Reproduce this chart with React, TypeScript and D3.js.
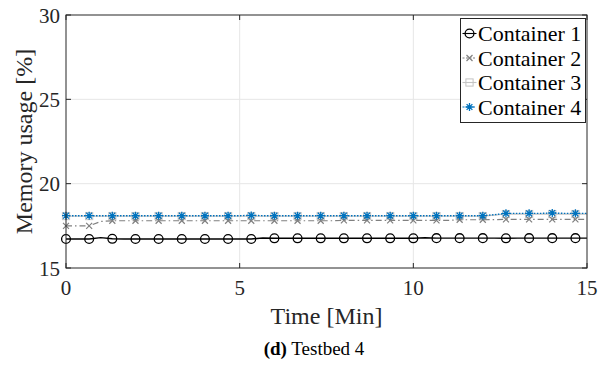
import React from "react";
import * as d3 from "d3";

// Sample times in minutes (every 20 s), markers drawn on every second sample
const times: number[] = d3.range(0, 46).map((i) => i / 3);

const container1: number[] = [
  16.72, 16.72, 16.72, 16.8, 16.73, 16.72, 16.72, 16.72, 16.72, 16.72,
  16.72, 16.72, 16.72, 16.72, 16.72, 16.72, 16.72, 16.78, 16.76, 16.76,
  16.76, 16.76, 16.76, 16.76, 16.76, 16.76, 16.76, 16.76, 16.76, 16.76,
  16.76, 16.79, 16.77, 16.77, 16.77, 16.77, 16.77, 16.77, 16.76, 16.77,
  16.77, 16.77, 16.77, 16.77, 16.77, 16.77,
];

const container2: number[] = [
  17.5, 17.5, 17.5, 17.76, 17.8, 17.8, 17.8, 17.8, 17.8, 17.8,
  17.8, 17.8, 17.8, 17.8, 17.8, 17.8, 17.8, 17.8, 17.8, 17.8,
  17.8, 17.8, 17.8, 17.8, 17.82, 17.82, 17.82, 17.82, 17.82, 17.82,
  17.82, 17.82, 17.82, 17.82, 17.86, 17.86, 17.86, 17.87, 17.88, 17.88,
  17.88, 17.88, 17.88, 17.88, 17.88, 17.88,
];

const container3: number[] = [
  18.08, 18.08, 18.08, 18.08, 18.08, 18.08, 18.08, 18.08, 18.08, 18.08,
  18.08, 18.08, 18.08, 18.08, 18.08, 18.08, 18.08, 18.08, 18.08, 18.08,
  18.08, 18.08, 18.08, 18.08, 18.08, 18.08, 18.08, 18.08, 18.08, 18.08,
  18.08, 18.08, 18.08, 18.08, 18.08, 18.08, 18.08, 18.14, 18.2, 18.2,
  18.2, 18.2, 18.2, 18.2, 18.2, 18.2,
];

const container4: number[] = [
  18.1, 18.1, 18.1, 18.1, 18.1, 18.1, 18.1, 18.1, 18.1, 18.1,
  18.1, 18.1, 18.1, 18.1, 18.1, 18.1, 18.12, 18.1, 18.1, 18.1,
  18.1, 18.1, 18.1, 18.1, 18.1, 18.1, 18.1, 18.1, 18.1, 18.1,
  18.1, 18.1, 18.1, 18.1, 18.1, 18.1, 18.1, 18.16, 18.24, 18.24,
  18.24, 18.24, 18.26, 18.24, 18.24, 18.24,
];

const seriesNames: string[] = ["Container 1", "Container 2", "Container 3", "Container 4"];
const xTicks: number[] = [0, 5, 10, 15];
const yTicks: number[] = [15, 20, 25, 30];
const xLabel = "Time [Min]";
const yLabel = "Memory usage [%]";

type Marker = "circle" | "x" | "square" | "star";

interface Series {
  name: string;
  values: number[];
  color: string;
  dash: string;
  width: number;
  marker: Marker;
}

const series: Series[] = [
  { name: seriesNames[2], values: container3, color: "#c4c4c4", dash: "", width: 1.2, marker: "square" },
  { name: seriesNames[0], values: container1, color: "#000000", dash: "", width: 1.4, marker: "circle" },
  { name: seriesNames[1], values: container2, color: "#808080", dash: "6,3,1.5,3", width: 1.2, marker: "x" },
  { name: seriesNames[3], values: container4, color: "#0072BD", dash: "1.5,1.5", width: 1.4, marker: "star" },
];

const W = 611;
const H = 365;
const left = 66;
const right = 587;
const top = 15;
const bottom = 268;
const serif = "'Liberation Serif', 'Times New Roman', serif";
const axisColor = "#262626";

function MarkerShape({ kind, x, y, color }: { kind: Marker; x: number; y: number; color: string }) {
  if (kind === "circle") {
    return <circle cx={x} cy={y} r={4.4} fill="none" stroke={color} strokeWidth={1.3} />;
  }
  if (kind === "square") {
    return <rect x={x - 3.6} y={y - 3.6} width={7.2} height={7.2} fill="none" stroke={color} strokeWidth={1} />;
  }
  if (kind === "x") {
    const s = 3;
    return (
      <path
        d={`M${x - s},${y - s}L${x + s},${y + s}M${x - s},${y + s}L${x + s},${y - s}`}
        stroke={color}
        strokeWidth={1.2}
      />
    );
  }
  const s = 4;
  const d = s * 0.72;
  return (
    <path
      d={`M${x - s},${y}L${x + s},${y}M${x},${y - s}L${x},${y + s}M${x - d},${y - d}L${x + d},${y + d}M${x - d},${y + d}L${x + d},${y - d}`}
      stroke={color}
      strokeWidth={1.3}
    />
  );
}

export default function App() {
  const x = d3.scaleLinear().domain([0, 15]).range([left, right]);
  const y = d3.scaleLinear().domain([15, 30]).range([bottom, top]);

  const lineGen = d3
    .line<number>()
    .x((_, i) => x(times[i]))
    .y((v) => y(v));

  const legendOrder: Series[] = [series[1], series[2], series[0], series[3]];
  const legendX = 460.5;
  const legendY = 18.5;
  const legendW = 125;
  const rowH = 24.5;

  return (
    <svg
      width={W}
      height={H}
      style={{ position: "absolute", left: 0, top: 0, background: "#fff" }}
    >
      <rect x={0} y={0} width={W} height={H} fill="#fff" />
      {/* grid */}
      {xTicks.slice(1, -1).map((t) => (
        <line key={`gx${t}`} x1={x(t)} x2={x(t)} y1={top} y2={bottom} stroke="#e6e6e6" strokeWidth={1} />
      ))}
      {yTicks.slice(1, -1).map((t) => (
        <line key={`gy${t}`} x1={left} x2={right} y1={y(t)} y2={y(t)} stroke="#e6e6e6" strokeWidth={1} />
      ))}

      {/* series */}
      {series.map((s) => (
        <g key={s.name}>
          <path
            d={lineGen(s.values) || ""}
            fill="none"
            stroke={s.color}
            strokeWidth={s.width}
            strokeDasharray={s.dash || undefined}
          />
          {s.values.map((v, i) =>
            i % 2 === 0 ? (
              <MarkerShape key={i} kind={s.marker} x={x(times[i])} y={y(v)} color={s.color} />
            ) : null
          )}
        </g>
      ))}

      {/* axes box */}
      <rect x={left} y={top} width={right - left} height={bottom - top} fill="none" stroke={axisColor} strokeWidth={1} />
      {xTicks.map((t) => (
        <g key={`tx${t}`}>
          <line x1={x(t)} x2={x(t)} y1={bottom} y2={bottom - 5} stroke={axisColor} />
          <line x1={x(t)} x2={x(t)} y1={top} y2={top + 5} stroke={axisColor} />
          <text x={x(t)} y={bottom + 27} textAnchor="middle" fontFamily={serif} fontSize={21} fill={axisColor}>
            {t}
          </text>
        </g>
      ))}
      {yTicks.map((t) => (
        <g key={`ty${t}`}>
          <line x1={left} x2={left + 5} y1={y(t)} y2={y(t)} stroke={axisColor} />
          <line x1={right} x2={right - 5} y1={y(t)} y2={y(t)} stroke={axisColor} />
          <text x={left - 6} y={y(t) + 7.5} textAnchor="end" fontFamily={serif} fontSize={21} fill={axisColor}>
            {t}
          </text>
        </g>
      ))}

      {/* axis labels */}
      <text x={(left + right) / 2} y={324} textAnchor="middle" fontFamily={serif} fontSize={24} fill={axisColor}>
        {xLabel}
      </text>
      <text
        transform={`translate(32,${(top + bottom) / 2}) rotate(-90)`}
        textAnchor="middle"
        fontFamily={serif}
        fontSize={24}
        fill={axisColor}
      >
        {yLabel}
      </text>

      {/* legend */}
      <rect x={legendX} y={legendY} width={legendW} height={rowH * 4 + 6} fill="#fff" stroke={axisColor} strokeWidth={1} />
      {legendOrder.map((s, i) => {
        const cy = legendY + 15 + i * rowH;
        return (
          <g key={`lg${s.name}`}>
            <line
              x1={legendX + 2}
              x2={legendX + 16}
              y1={cy}
              y2={cy}
              stroke={s.color}
              strokeWidth={1.1}
              strokeDasharray={s.dash ? "2,1.5" : undefined}
            />
            <MarkerShape kind={s.marker} x={legendX + 9} y={cy} color={s.color} />
            <text x={legendX + 17.5} y={cy + 7.5} fontFamily={serif} fontSize={22} fill="#000">
              {s.name}
            </text>
          </g>
        );
      })}

      {/* caption */}
      <text x={314} y={355} textAnchor="middle" fontFamily={serif} fontSize={19} fill="#000">
        <tspan fontWeight="bold">(d)</tspan>
        <tspan> Testbed 4</tspan>
      </text>
    </svg>
  );
}
